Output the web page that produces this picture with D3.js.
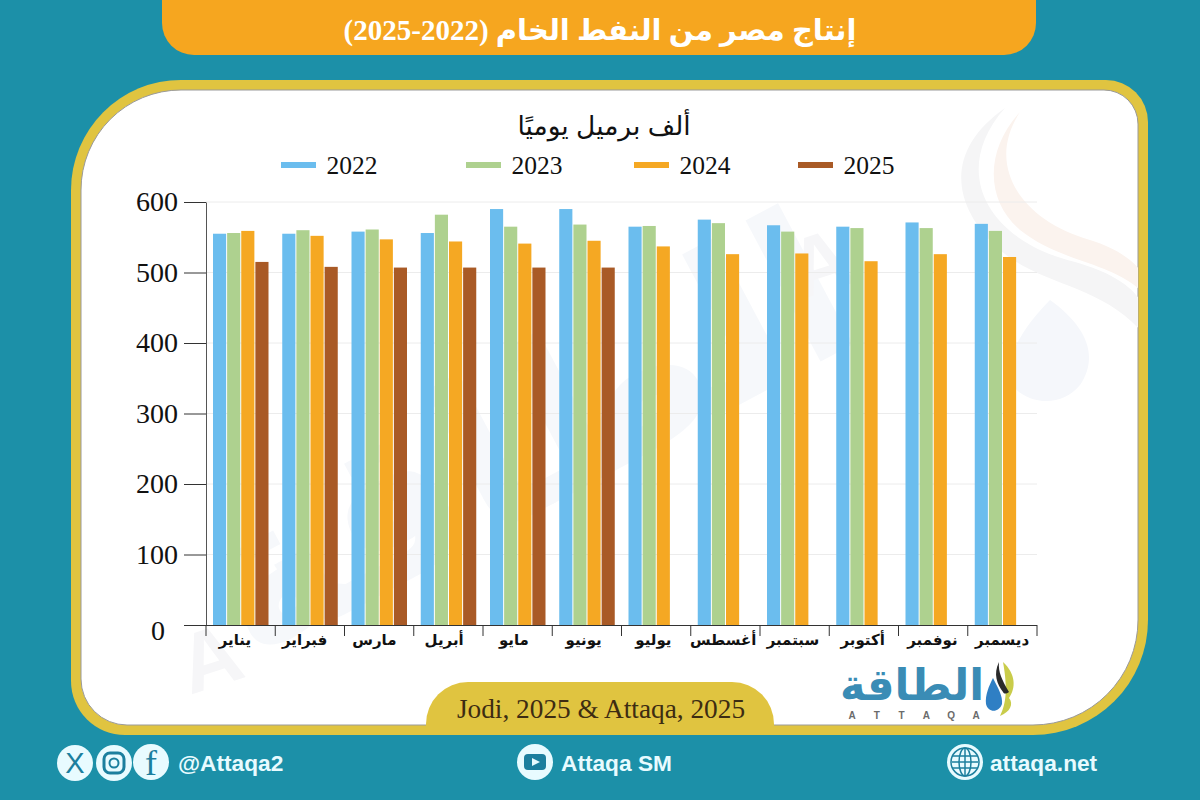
<!DOCTYPE html>
<html lang="ar">
<head>
<meta charset="utf-8">
<script src="https://cdn.jsdelivr.net/npm/d3@7"></script>
<style>
    html, body { margin: 0; padding: 0; background: #1c90a8; }
    svg { display: block; }
    .serif { font-family: "Liberation Serif", serif; }
    .sans { font-family: "Liberation Sans", Arial, sans-serif; }
    .ar { font-family: "Liberation Sans", "DejaVu Sans", sans-serif; direction: rtl; }
    .arserif { font-family: "Liberation Serif", "DejaVu Sans", serif; direction: rtl; }
</style>
</head>
<body>
<svg id="chart" width="1200" height="800"></svg>
<script>
var months = ['يناير', 'فبراير', 'مارس', 'أبريل', 'مايو', 'يونيو', 'يوليو', 'أغسطس', 'سبتمبر', 'أكتوبر', 'نوفمبر', 'ديسمبر'];
var years = ['2022', '2023', '2024', '2025'];
var values2022 = [555, 555, 558, 556, 590, 590, 565, 575, 567, 565, 571, 569];
var values2023 = [556, 560, 561, 582, 565, 568, 566, 570, 558, 563, 563, 559];
var values2024 = [559, 552, 547, 544, 541, 545, 537, 526, 527, 516, 526, 522];
var values2025 = [515, 508, 507, 507, 507, 507, null, null, null, null, null, null];
var yTicks = [0, 100, 200, 300, 400, 500, 600];
var seriesColors = ['#6bbdee', '#aed18f', '#f5a823', '#a95a26'];
var legendX = [281, 466, 634, 798];

var series = [values2022, values2023, values2024, values2025];

var svg = d3.select('#chart');

// path for a box with its own radius on every corner
function roundedBox(x, y, w, h, tl, tr, br, bl) {
    return 'M' + (x + tl) + ',' + y +
        'H' + (x + w - tr) + 'A' + tr + ',' + tr + ' 0 0 1 ' + (x + w) + ',' + (y + tr) +
        'V' + (y + h - br) + 'A' + br + ',' + br + ' 0 0 1 ' + (x + w - br) + ',' + (y + h) +
        'H' + (x + bl) + 'A' + bl + ',' + bl + ' 0 0 1 ' + x + ',' + (y + h - bl) +
        'V' + (y + tl) + 'A' + tl + ',' + tl + ' 0 0 1 ' + (x + tl) + ',' + y + 'Z';
}

function drawFrame() {
    svg.append('rect').attr('width', 1200).attr('height', 800).attr('fill', '#1c90a8');

    // title banner
    svg.append('path')
        .attr('d', roundedBox(162, -40, 874, 95, 0, 0, 32, 32))
        .attr('fill', '#f6a61f');
    svg.append('text')
        .attr('class', 'arserif')
        .attr('x', 600).attr('y', 40)
        .attr('text-anchor', 'middle')
        .attr('font-size', 29).attr('font-weight', 'bold')
        .attr('fill', '#fff')
        .text('إنتاج مصر من النفط الخام (2022-2025)');

    // card
    svg.append('path')
        .attr('d', roundedBox(71, 80, 1077, 655, 110, 42, 115, 54))
        .attr('fill', '#e0c440');
    var card = roundedBox(81, 90, 1057, 635, 100, 34, 105, 46);
    svg.append('path')
        .attr('d', card)
        .attr('fill', '#fff')
        .attr('stroke', '#9a9a9a')
        .attr('stroke-width', 1);
    svg.append('clipPath').attr('id', 'cardClip').append('path').attr('d', card);
}

function drawWatermark() {
    var wm = svg.append('g').attr('clip-path', 'url(#cardClip)');

    // swooshes and drop of the logo, top right
    wm.append('path')
        .attr('d', 'M1005,108C950,170 985,240 1075,262C1110,272 1130,285 1140,300V330C1100,285 1040,285 1000,250C950,205 945,150 1005,108Z')
        .attr('fill', '#f5f5f6');
    wm.append('path')
        .attr('d', 'M1020,112C985,165 1020,220 1090,240C1115,248 1130,258 1140,270V290C1110,262 1060,262 1020,230C985,200 985,150 1020,112Z')
        .attr('fill', '#fbf3ee');
    wm.append('path')
        .attr('d', 'M1050,300C1085,325 1100,355 1080,385C1060,410 1020,405 1005,375C1012,345 1030,320 1050,300Z')
        .attr('fill', '#f5f7fb');

    // faint rotated logo behind the bars
    wm.append('text')
        .attr('class', 'ar')
        .attr('transform', 'translate(560,500) rotate(-28)')
        .attr('text-anchor', 'middle')
        .attr('font-size', 210).attr('font-weight', 'bold')
        .attr('fill', '#f6f8fb')
        .text('الطاقة');
    wm.append('text')
        .attr('class', 'sans')
        .attr('transform', 'translate(190,695) rotate(-18)')
        .attr('font-size', 84).attr('font-weight', 'bold')
        .attr('fill', '#f6f6f8')
        .text('A');
    wm.append('text')
        .attr('class', 'sans')
        .attr('transform', 'translate(800,300) rotate(-18)')
        .attr('font-size', 84).attr('font-weight', 'bold')
        .attr('fill', '#f6f6f8')
        .text('A');
}

function drawChart() {
    var x = d3.scaleBand().domain(months).range([206, 1037]);
    var xInner = d3.scaleBand().domain(years).range([7, 62.5]).paddingInner(0.07);
    // labels in the picture do not sit quite on the band centres
    var xLabels = d3.scaleBand().domain(months).range([200, 1037]);
    var y = d3.scaleLinear().domain([0, 600]).range([625, 202]);

    // grid
    svg.append('g')
        .selectAll('line')
        .data(yTicks.slice(1))
        .join('line')
        .attr('x1', 206).attr('x2', 1037)
        .attr('y1', function (d) { return y(d); })
        .attr('y2', function (d) { return y(d); })
        .attr('stroke', '#ececec');

    // bars
    series.forEach(function (values, i) {
        svg.append('g')
            .attr('fill', seriesColors[i])
            .selectAll('rect')
            .data(values.map(function (v, m) { return { month: months[m], value: v }; })
                .filter(function (d) { return d.value !== null; }))
            .join('rect')
            .attr('x', function (d) { return x(d.month) + xInner(years[i]); })
            .attr('y', function (d) { return y(d.value); })
            .attr('width', xInner.bandwidth())
            .attr('height', function (d) { return y(0) - y(d.value); });
    });

    // y axis
    var yAxis = svg.append('g')
        .attr('transform', 'translate(206,0)')
        .call(d3.axisLeft(y).tickValues(yTicks).tickSize(22).tickSizeOuter(0).tickPadding(6));
    yAxis.selectAll('line').attr('stroke', '#333');
    yAxis.select('.domain').attr('stroke', '#555');
    yAxis.selectAll('text')
        .attr('class', 'serif')
        .attr('font-size', 28)
        .attr('font-family', null)
        .attr('fill', '#111');
    // the zero label is pulled away from the corner
    yAxis.selectAll('.tick text')
        .filter(function (d) { return d === 0; })
        .attr('x', -41)
        .attr('dy', '0.5em');

    // x axis, ticks sit on the band edges so they are drawn apart from the labels
    var xAxis = svg.append('g')
        .attr('transform', 'translate(0,625)')
        .call(d3.axisBottom(xLabels).tickSize(0).tickPadding(9));
    xAxis.select('.domain').attr('d', 'M184,0.5H1037').attr('stroke', '#333');
    xAxis.selectAll('text')
        .attr('class', 'ar')
        .attr('font-family', null)
        .attr('font-size', 15)
        .attr('font-weight', 'bold')
        .attr('fill', '#111');
    xAxis.selectAll('line.edge')
        .data(months.map(function (m) { return x(m); }).concat([x.range()[1]]))
        .join('line')
        .attr('class', 'edge')
        .attr('x1', function (d) { return d; })
        .attr('x2', function (d) { return d; })
        .attr('y1', 0).attr('y2', 11)
        .attr('stroke', '#333');

    // unit and legend
    svg.append('text')
        .attr('class', 'ar')
        .attr('x', 604).attr('y', 135)
        .attr('text-anchor', 'middle')
        .attr('font-size', 26.5)
        .attr('fill', '#111')
        .text('ألف برميل يوميًا');

    var legend = svg.append('g')
        .selectAll('g')
        .data(years)
        .join('g')
        .attr('transform', function (d, i) { return 'translate(' + legendX[i] + ',165)'; });
    legend.append('rect')
        .attr('y', -3).attr('width', 35).attr('height', 6)
        .attr('fill', function (d, i) { return seriesColors[i]; });
    legend.append('text')
        .attr('class', 'serif')
        .attr('x', 45.5).attr('y', 9)
        .attr('font-size', 25.5)
        .attr('fill', '#111')
        .text(function (d) { return d; });
}

function drawSource() {
    svg.append('path')
        .attr('d', roundedBox(426, 682, 348, 53, 42, 42, 0, 0))
        .attr('fill', '#e0c440');
    svg.append('text')
        .attr('class', 'serif')
        .attr('x', 601).attr('y', 718)
        .attr('text-anchor', 'middle')
        .attr('font-size', 27.3)
        .attr('fill', '#3d2c12')
        .text('Jodi, 2025 & Attaqa, 2025');
}

function drawLogo() {
    var logo = svg.append('g');
    logo.append('text')
        .attr('class', 'ar')
        .attr('x', 984).attr('y', 700)
        .attr('text-anchor', 'start')
        .attr('textLength', 144)
        .attr('lengthAdjust', 'spacingAndGlyphs')
        .attr('font-size', 44).attr('font-weight', 'bold')
        .attr('fill', '#3a8cb5')
        .text('الطاقة');
    logo.selectAll('text.latin')
        .data(['A', 'T', 'T', 'A', 'Q', 'A'])
        .join('text')
        .attr('class', 'latin sans')
        .attr('x', function (d, i) { return 852 + i * 24.8; })
        .attr('y', 719)
        .attr('text-anchor', 'middle')
        .attr('font-size', 10).attr('font-weight', 'bold')
        .attr('fill', '#6b6b6b')
        .text(function (d) { return d; });
    // drop with its coloured swirls
    logo.append('path')
        .attr('d', 'M1003,662C1016,674 1016,688 1009,698C1014,704 1010,712 1000,716C1006,704 1008,690 1003,662Z')
        .attr('fill', '#c9cc4a');
    logo.append('path')
        .attr('d', 'M999,662C998,672 1002,680 1009,692C1006,694 1004,694 1003,692C997,684 993,674 999,662Z')
        .attr('fill', '#2a2a2a');
    logo.append('path')
        .attr('d', 'M993,678C998,688 1003,696 1002,704C999,713 988,713 986,704C985,695 989,686 993,678Z')
        .attr('fill', '#2f7fc4');
}

function drawFooter() {
    var ink = '#1c7f9e';
    var pale = '#e8fbff';
    var icons = svg.append('g').attr('fill', pale);
    [[75, 763], [114, 763], [151, 762], [535, 762], [965, 762]].forEach(function (c) {
        icons.append('circle').attr('cx', c[0]).attr('cy', c[1]).attr('r', 18);
    });

    // X
    icons.append('text').attr('class', 'sans')
        .attr('x', 75).attr('y', 773).attr('text-anchor', 'middle')
        .attr('font-size', 29).attr('fill', ink).text('X');
    // instagram
    icons.append('rect').attr('x', 104).attr('y', 753).attr('width', 20).attr('height', 20).attr('rx', 6)
        .attr('fill', 'none').attr('stroke', ink).attr('stroke-width', 3);
    icons.append('circle').attr('cx', 114).attr('cy', 763).attr('r', 4.5)
        .attr('fill', 'none').attr('stroke', ink).attr('stroke-width', 2);
    // facebook
    icons.append('text').attr('class', 'serif')
        .attr('x', 151).attr('y', 775).attr('text-anchor', 'middle')
        .attr('font-size', 36).attr('fill', ink).text('f');
    // youtube
    icons.append('rect').attr('x', 524).attr('y', 754).attr('width', 22).attr('height', 16).attr('rx', 4).attr('fill', ink);
    icons.append('path').attr('d', 'M532,758L540,762L532,766Z').attr('fill', pale);
    // globe
    var globe = svg.append('g').attr('fill', 'none').attr('stroke', ink).attr('stroke-width', 1.5);
    globe.append('circle').attr('cx', 965).attr('cy', 762).attr('r', 14);
    globe.append('ellipse').attr('cx', 965).attr('cy', 762).attr('rx', 6).attr('ry', 14);
    [-6, 0, 6].forEach(function (dy) {
        globe.append('line').attr('x1', 952).attr('x2', 978).attr('y1', 762 + dy).attr('y2', 762 + dy);
    });
    globe.append('line').attr('x1', 965).attr('x2', 965).attr('y1', 748).attr('y2', 776);

    var footerText = [['@Attaqa2', 178], ['Attaqa SM', 561], ['attaqa.net', 990]];
    svg.append('g')
        .selectAll('text')
        .data(footerText)
        .join('text')
        .attr('class', 'sans')
        .attr('x', function (d) { return d[1]; })
        .attr('y', 771)
        .attr('font-size', 22.7).attr('font-weight', 'bold')
        .attr('fill', pale)
        .text(function (d) { return d[0]; });
}

drawFrame();
drawWatermark();
drawChart();
drawSource();
drawLogo();
drawFooter();
</script>
</body>
</html>
